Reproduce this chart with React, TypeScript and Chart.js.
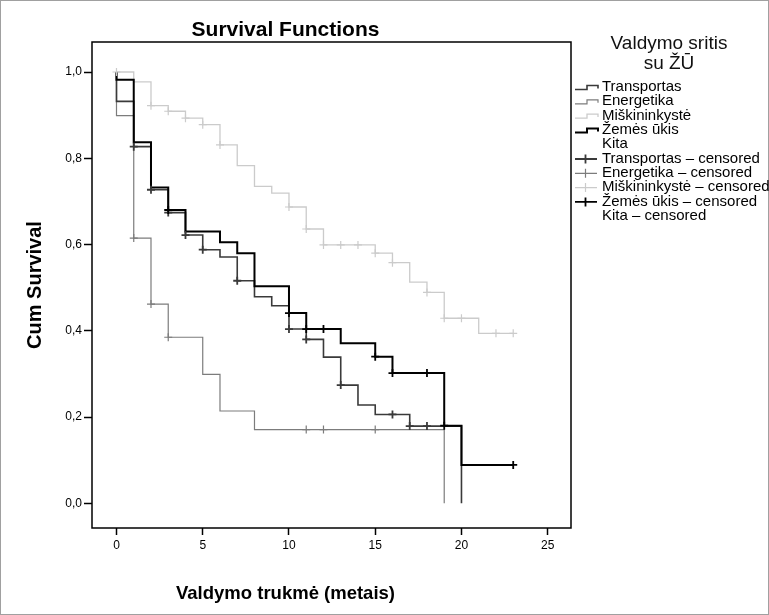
import React, { useEffect, useRef } from 'react';
import { Chart, registerables } from 'chart.js';

Chart.register(...registerables);

const FONT = "'Liberation Sans', Arial, Helvetica, sans-serif";

// ---- data (time in years, cumulative survival) ----
const chartTitle = 'Survival Functions';
const xAxisTitle = 'Valdymo trukmė (metais)';
const yAxisTitle = 'Cum Survival';
const legendTitle = ['Valdymo sritis', 'su ŽŪ'];

const groupLabels = ['Transportas', 'Energetika', 'Miškininkystė', 'Žemės ūkis', 'Kita'];
const groupColors = ['#3a3a3a', '#7c7c7c', '#cbcbcb', '#000000', '#ffffff'];

const xTickValues = [0, 5, 10, 15, 20, 25];
const yTickValues = [0, 0.2, 0.4, 0.6, 0.8, 1.0];

const transportTimes = [0, 0, 1, 2, 3, 4, 5, 6, 7, 8, 9, 10, 11, 12, 13, 14, 15, 17, 20];
const transportSurv = [1, 0.932, 0.827, 0.727, 0.674, 0.622, 0.588, 0.571, 0.516, 0.479, 0.458, 0.404, 0.38, 0.339, 0.274, 0.228, 0.206, 0.179, 0];
const transportCensTimes = [1, 2, 3, 4, 5, 7, 10, 11, 13, 16, 17, 18];
const transportCensSurv = [0.827, 0.727, 0.674, 0.622, 0.588, 0.516, 0.404, 0.38, 0.274, 0.206, 0.179, 0.179];

const energyTimes = [0, 0, 1, 2, 3, 5, 6, 8, 19];
const energySurv = [1, 0.899, 0.615, 0.462, 0.385, 0.299, 0.214, 0.171, 0];
const energyCensTimes = [1, 2, 3, 11, 12, 15];
const energyCensSurv = [0.615, 0.462, 0.385, 0.171, 0.171, 0.171];

const forestTimes = [0, 1, 2, 3, 4, 5, 6, 7, 8, 9, 10, 11, 12, 15, 16, 17, 18, 19, 21, 23];
const forestSurv = [1, 0.977, 0.922, 0.909, 0.893, 0.878, 0.831, 0.783, 0.735, 0.719, 0.687, 0.636, 0.599, 0.58, 0.558, 0.513, 0.489, 0.429, 0.394, 0.394];
const forestCensTimes = [0, 2, 3, 4, 5, 6, 10, 11, 12, 13, 14, 15, 16, 18, 19, 20, 22, 23];
const forestCensSurv = [1, 0.922, 0.909, 0.893, 0.878, 0.831, 0.687, 0.636, 0.599, 0.599, 0.599, 0.58, 0.558, 0.489, 0.429, 0.429, 0.394, 0.394];

const agriTimes = [0, 0, 1, 2, 3, 4, 6, 7, 8, 10, 11, 13, 15, 16, 19, 20, 23];
const agriSurv = [1, 0.982, 0.837, 0.732, 0.68, 0.63, 0.605, 0.58, 0.503, 0.441, 0.404, 0.371, 0.34, 0.302, 0.18, 0.089, 0.089];
const agriCensTimes = [3, 10, 11, 12, 15, 16, 18, 19, 23];
const agriCensSurv = [0.68, 0.441, 0.404, 0.404, 0.34, 0.302, 0.302, 0.18, 0.089];

const otherTimes: number[] = [];
const otherSurv: number[] = [];
const otherCensTimes: number[] = [];
const otherCensSurv: number[] = [];

const toPoints = (ts: number[], ss: number[]) => ts.map((t, i) => ({ x: t, y: ss[i] }));

const lineWidths = [1.6, 1.2, 1.3, 2, 1];

function buildDatasets() {
  const series = [
    [transportTimes, transportSurv, transportCensTimes, transportCensSurv],
    [energyTimes, energySurv, energyCensTimes, energyCensSurv],
    [forestTimes, forestSurv, forestCensTimes, forestCensSurv],
    [agriTimes, agriSurv, agriCensTimes, agriCensSurv],
    [otherTimes, otherSurv, otherCensTimes, otherCensSurv],
  ];
  const drawOrder = [3, 0, 1, 2, 4];
  const cens: any[] = [];
  const lines: any[] = [];
  drawOrder.forEach((g) => {
    const [t, s, ct, cs] = series[g];
    cens.push({
      label: groupLabels[g] + ' – censored',
      data: toPoints(ct as number[], cs as number[]),
      showLine: false,
      pointStyle: 'cross',
      pointRadius: 4,
      pointBorderWidth: g === 2 || g === 1 ? 1.2 : 1.8,
      borderColor: groupColors[g],
      backgroundColor: groupColors[g],
      legendRank: 5 + g,
      censored: true,
    });
    lines.push({
      label: groupLabels[g],
      data: toPoints(t as number[], s as number[]),
      stepped: 'before',
      borderColor: groupColors[g],
      backgroundColor: groupColors[g],
      borderWidth: lineWidths[g],
      pointRadius: 0,
      fill: false,
      borderCapStyle: 'butt',
      borderJoinStyle: 'miter',
      legendRank: g,
      censored: false,
    });
  });
  return [...cens, ...lines];
}

const framePlugin = {
  id: 'frame',
  afterDraw(chart: any) {
    const { ctx, chartArea } = chart;
    ctx.save();
    ctx.strokeStyle = '#000';
    ctx.lineWidth = 1.5;
    ctx.strokeRect(chartArea.left, chartArea.top, chartArea.right - chartArea.left, chartArea.bottom - chartArea.top);
    ctx.strokeStyle = '#a0a0a0';
    ctx.lineWidth = 1;
    ctx.strokeRect(0.5, 0.5, chart.width - 1, chart.height - 1);
    ctx.restore();
  },
};

const legendPlugin = {
  id: 'kmLegend',
  afterDraw(chart: any) {
    const ctx = chart.ctx;
    ctx.save();
    ctx.fillStyle = '#111';
    ctx.textAlign = 'center';
    ctx.textBaseline = 'middle';
    ctx.font = `19px ${FONT}`;
    ctx.fillText(legendTitle[0], 669, 44);
    ctx.fillText(legendTitle[1], 669, 64);
    const items = chart.data.datasets
      .filter((d: any) => d.legendRank !== undefined)
      .sort((a: any, b: any) => a.legendRank - b.legendRank);
    items.forEach((ds: any, i: number) => {
      const y = 87 + i * 14.3;
      ctx.strokeStyle = ds.borderColor;
      if (ds.censored) {
        ctx.lineWidth = ds.pointBorderWidth;
        ctx.beginPath();
        ctx.moveTo(575, y + 0.5);
        ctx.lineTo(597, y + 0.5);
        ctx.moveTo(585.5, y - 4);
        ctx.lineTo(585.5, y + 5);
        ctx.stroke();
      } else {
        ctx.lineWidth = ds.borderWidth;
        ctx.beginPath();
        ctx.moveTo(575, y + 2.5);
        ctx.lineTo(587, y + 2.5);
        ctx.lineTo(587, y - 1.5);
        ctx.lineTo(598, y - 1.5);
        ctx.lineTo(598, y + 1.5);
        ctx.stroke();
      }
      ctx.fillStyle = '#000';
      ctx.textAlign = 'left';
      ctx.font = `15px ${FONT}`;
      ctx.fillText(ds.label, 602, y);
    });
    ctx.restore();
  },
};

const fmt = (v: number) => v.toFixed(1).replace('.', ',');

export default function App() {
  const ref = useRef<HTMLCanvasElement | null>(null);
  useEffect(() => {
    if (!ref.current) return;
    const chart = new Chart(ref.current, {
      type: 'line',
      data: { datasets: buildDatasets() },
      plugins: [framePlugin, legendPlugin],
      options: {
        animation: false,
        responsive: true,
        maintainAspectRatio: false,
        events: [],
        layout: { padding: { left: 0, top: 7, right: 198, bottom: 0 } },
        plugins: {
          legend: { display: false },
          tooltip: { enabled: false },
          title: {
            display: true,
            text: chartTitle,
            color: '#000',
            font: { family: FONT, size: 21, weight: 'bold', lineHeight: 1.1 },
            padding: { top: 11.45, bottom: 0.45 },
          },
          subtitle: {
            display: true,
            position: 'bottom',
            text: xAxisTitle,
            color: '#000',
            font: { family: FONT, size: 18.5, weight: 'bold', lineHeight: 1.2 },
            padding: { top: 24.9, bottom: 9.9 },
          },
        },
        scales: {
          x: {
            type: 'linear',
            min: -1.42,
            max: 26.35,
            afterBuildTicks: (s: any) => {
              s.ticks = xTickValues.map((v) => ({ value: v }));
            },
            afterFit: (s: any) => {
              s.height = 30;
            },
            border: { display: false },
            grid: { display: true, drawOnChartArea: false, drawTicks: true, tickLength: 7, tickWidth: 1.5, tickColor: '#000' },
            ticks: { color: '#000', font: { family: FONT, size: 12 }, padding: 3, maxRotation: 0, autoSkip: false, callback: (v: any) => String(v) },
          },
          y: {
            type: 'linear',
            min: -0.0573,
            max: 1.0696,
            afterBuildTicks: (s: any) => {
              s.ticks = yTickValues.map((v) => ({ value: v }));
            },
            afterFit: (s: any) => {
              s.width = 92;
            },
            border: { display: false },
            grid: { display: true, drawOnChartArea: false, drawTicks: true, tickLength: 8, tickWidth: 1.5, tickColor: '#000' },
            ticks: { color: '#000', font: { family: FONT, size: 12 }, padding: 2, autoSkip: false, callback: (v: any) => fmt(Number(v)) },
            title: {
              display: true,
              text: yAxisTitle,
              color: '#000',
              font: { family: FONT, size: 20, weight: 'bold', lineHeight: 1.2 },
              padding: { top: 23, bottom: 0 },
            },
          },
        },
      } as any,
    });
    return () => chart.destroy();
  }, []);
  return (
    <div style={{ position: 'absolute', left: 0, top: 0, width: 769, height: 615, background: '#fff' }}>
      <canvas ref={ref} />
    </div>
  );
}
